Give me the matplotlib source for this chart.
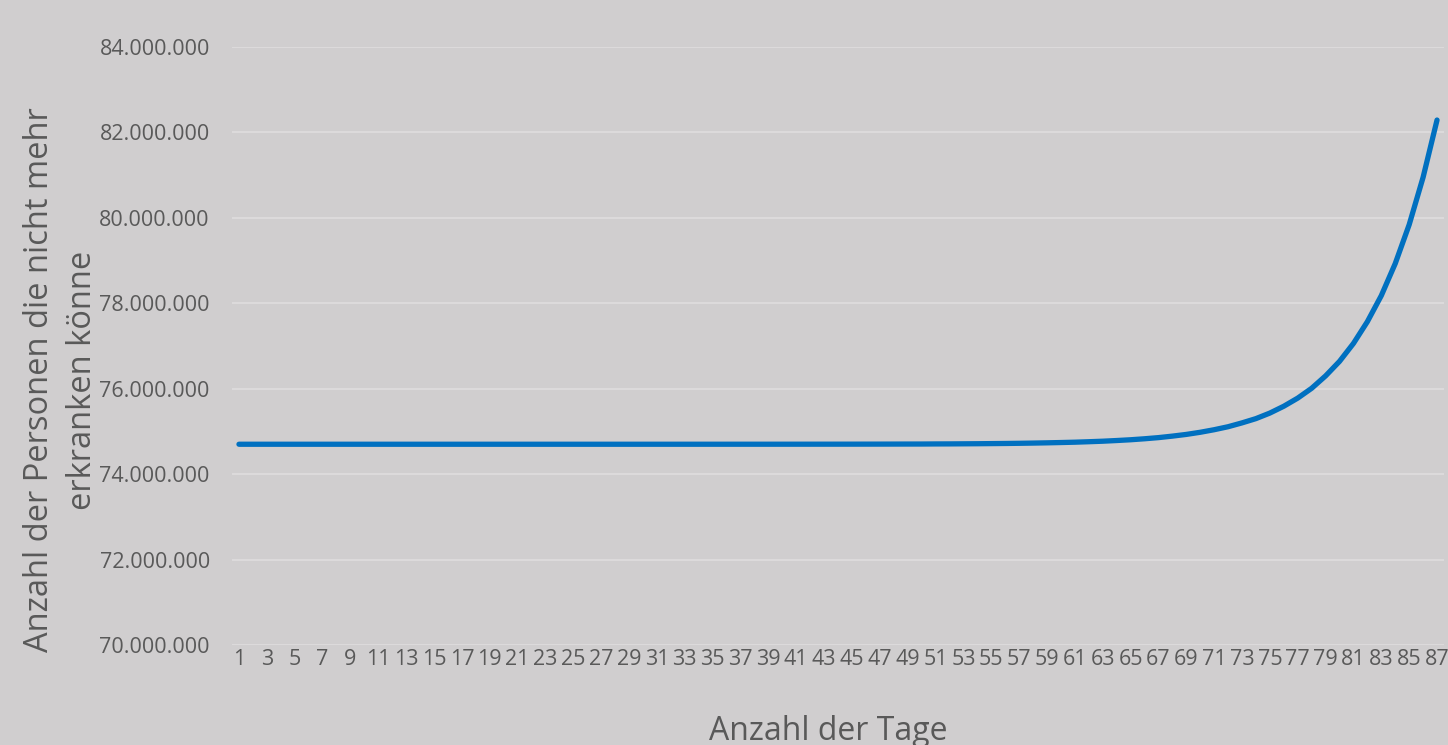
import matplotlib
matplotlib.use("Agg")
from matplotlib import pyplot as plt
from matplotlib.ticker import FuncFormatter

# Tage 1..87
days = list(range(1, 88))

# Anzahl der Personen, die nicht mehr erkranken koennen
immune = [
    74_700_000, 74_700_000, 74_700_000, 74_700_000, 74_700_000, 74_700_000,
    74_700_000, 74_700_000, 74_700_000, 74_700_000, 74_700_000, 74_700_000,
    74_700_000, 74_700_000, 74_700_000, 74_700_000, 74_700_000, 74_700_000,
    74_700_000, 74_700_000, 74_700_000, 74_700_000, 74_700_000, 74_700_000,
    74_700_000, 74_700_000, 74_700_000, 74_700_000, 74_700_000, 74_700_000,
    74_700_100, 74_700_100, 74_700_200, 74_700_200, 74_700_300, 74_700_300,
    74_700_400, 74_700_500, 74_700_600, 74_700_800, 74_701_000, 74_701_200,
    74_701_400, 74_701_700, 74_702_000, 74_702_500, 74_703_000, 74_703_700,
    74_704_500, 74_705_000, 74_707_000, 74_708_000, 74_710_000, 74_712_000,
    74_715_000, 74_718_000, 74_722_000, 74_727_000, 74_733_000, 74_740_000,
    74_748_000, 74_759_000, 74_771_000, 74_787_000, 74_805_000, 74_828_000,
    74_855_000, 74_890_000, 74_930_000, 74_980_000, 75_040_000, 75_110_000,
    75_200_000, 75_300_000, 75_430_000, 75_590_000, 75_780_000, 76_010_000,
    76_300_000, 76_640_000, 77_060_000, 77_570_000, 78_180_000, 78_930_000,
    79_840_000, 80_950_000, 82_290_000,
]

y_ticks = [70_000_000, 72_000_000, 74_000_000, 76_000_000,
           78_000_000, 80_000_000, 82_000_000, 84_000_000]

BG = "#d0cecf"
GRID = "#dedcdd"
TEXT = "#595959"
LINE = "#0070c0"

plt.rcParams["font.family"] = ["Open Sans", "DejaVu Sans"]

fig = plt.figure(figsize=(14.48, 7.45), dpi=100, facecolor=BG)
ax = fig.add_axes([232 / 1448, 1 - 645 / 745, (1444 - 232) / 1448, (645 - 47) / 745])
ax.set_facecolor(BG)

ax.plot(days, immune, color=LINE, linewidth=3.8, solid_capstyle="round", zorder=3)

ax.set_xlim(0.5, 87.5)
ax.set_ylim(70_000_000, 84_000_000)
ax.set_yticks(y_ticks)
ax.yaxis.set_major_formatter(FuncFormatter(lambda v, _: f"{v:,.0f}".replace(",", ".")))
ax.set_xticks(days[::2])
ax.set_xticklabels([str(d) for d in days[::2]])

ax.grid(axis="y", color=GRID, linewidth=1.3, zorder=0)
ax.grid(axis="x", visible=False)
for s in ax.spines.values():
    s.set_visible(False)
ax.tick_params(axis="both", length=0, colors=TEXT, labelsize=15.5)
ax.tick_params(axis="y", pad=16)
ax.tick_params(axis="x", pad=3)

fig.text(61 / 1448, 1 - 380 / 745, "Anzahl der Personen die nicht mehr\nerkranken könne",
         rotation=90, ha="center", va="center", multialignment="center",
         fontsize=23.5, color=TEXT, linespacing=1.4)
fig.text(828 / 1448, 1 - 731 / 745, "Anzahl der Tage",
         ha="center", va="center", fontsize=23, color=TEXT)

plt.savefig("out.png", dpi=100, facecolor=BG)
plt.close()
